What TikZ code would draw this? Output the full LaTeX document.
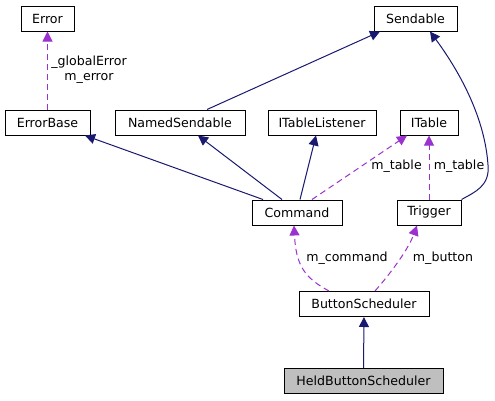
\documentclass[tikz,border=0pt]{standalone}
\usepackage{fontspec}
\setmainfont{DejaVu Sans}
\usetikzlibrary{arrows.meta}
\definecolor{navy}{HTML}{191970}
\definecolor{orchid}{HTML}{9A32CD}
\begin{document}
\begin{tikzpicture}[x=1pt,y=-1pt,
  cls/.style={draw=black,line width=1pt,fill=white,minimum height=25pt,inner sep=0pt,font=\fontsize{12.6}{14}\selectfont},
  inh/.style={color=navy,line width=1pt,-{Triangle[length=10pt,width=10pt]}},
  use/.style={color=orchid,line width=1pt,dash pattern=on 6pt off 4pt,-{Triangle[length=10pt,width=10pt]}},
  lbl/.style={font=\fontsize{12.6}{14.5}\selectfont,inner sep=0pt,align=center,text=black}]
\useasboundingbox (0,0) rectangle (495,400);
\node[cls,minimum width=53pt] (err) at (47.5,18.5) {Error};
\node[cls,minimum width=85pt] (eb) at (47.5,122.5) {ErrorBase};
\node[cls,minimum width=130pt] (ns) at (180,122.5) {NamedSendable};
\node[cls,minimum width=108pt] (itl) at (322,122.5) {ITableListener};
\node[cls,minimum width=58pt] (it) at (429,122.5) {ITable};
\node[cls,minimum width=83pt] (snd) at (415.5,18.5) {Sendable};
\node[cls,minimum width=90pt] (cmd) at (297,212.5) {Command};
\node[cls,minimum width=64pt] (trg) at (429,212.5) {Trigger};
\node[cls,minimum width=130pt] (bs) at (364,304) {ButtonScheduler};
\node[cls,minimum width=159pt,fill={rgb,255:red,191;green,191;blue,191}] (hbs) at (363.5,381) {HeldButtonScheduler};

\draw[use] (eb.north) -- (err.south);
\node[lbl] (l1) at (89,69.5) {\_globalError\\m\_error};

\draw[inh] ([xshift=27pt]ns.north) -- ([xshift=-35.5pt]snd.south);
\draw[inh] ([xshift=-34pt]cmd.north) -- ([xshift=37.5pt]eb.south);
\draw[inh] ([xshift=-15pt]cmd.north) -- ([xshift=18pt]ns.south);
\draw[inh] ([xshift=3pt]cmd.north) -- ([xshift=-6pt]itl.south);
\draw[use] ([xshift=15pt]cmd.north) -- ([xshift=-22pt]it.south);
\node[lbl] (l2) at (396.5,166) {m\_table};
\draw[use] (trg.north) -- (it.south);
\node[lbl] (l3) at (459,166) {m\_table};
\draw[inh] (trg.north east) .. controls (475,192) and (490,186) .. (488,165)
  .. controls (485,120) and (462,75) .. ([xshift=14.5pt]snd.south);
\draw[use] ([xshift=-35pt]bs.north) .. controls (305,278) and (296,266) .. ([xshift=-3pt]cmd.south);
\node[lbl] (l4) at (347,258) {m\_command};
\draw[use] ([xshift=11pt]bs.north) .. controls (390,274) and (408,250) .. ([xshift=-12pt]trg.south);
\node[lbl] (l5) at (443,258) {m\_button};
\draw[inh] (hbs.north) -- (bs.south);
\end{tikzpicture}
\end{document}
